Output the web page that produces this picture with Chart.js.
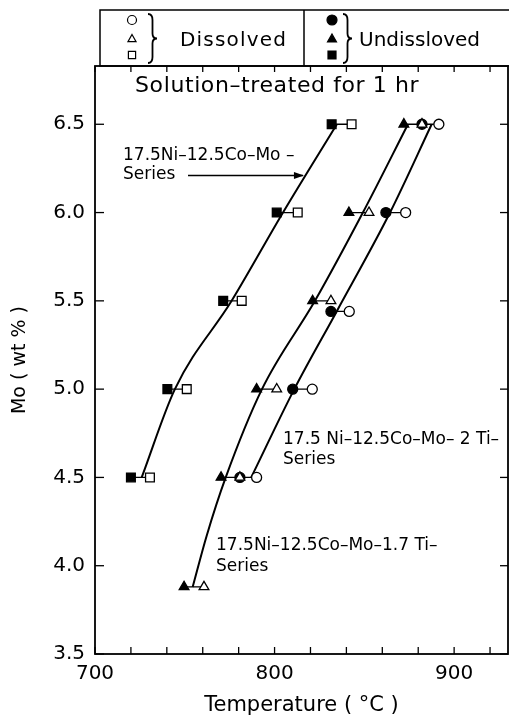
<!DOCTYPE html>
<html>
<head>
<meta charset="utf-8">
<script src="https://cdn.jsdelivr.net/npm/chart.js@4.4.1/dist/chart.umd.min.js"></script>
<style>
  html, body { margin: 0; padding: 0; background: #fff; }
</style>
</head>
<body>
<canvas id="moChart" width="509" height="718"></canvas>
<script>
// 17.5Ni-12.5Co-Mo series (Mo wt%, temperature in C)
const moLevels = [4.5, 5.0, 5.5, 6.0, 6.5];
const moUndissolved = [720, 740.3, 771.4, 801.2, 831.8];
const moDissolved = [730.6, 751.1, 781.7, 812.9, 842.9];
const moCurveMo = [4.5, 5.0, 5.5, 6.0, 6.5];
const moCurveTemp = [726, 744.5, 776.1, 804.7, 834.7];

// 17.5Ni-12.5Co-Mo-1.7Ti series
const ti17Levels = [3.88, 4.5, 5.0, 5.5, 6.0, 6.5];
const ti17Undissolved = [749.6, 770.2, 790, 821.2, 841.4, 872];
const ti17Dissolved = [760.7, 780.7, 801.2, 831.4, 852.6, 882.1];
const ti17CurveMo = [3.88, 4.17, 4.5, 5.0, 5.5, 6.0, 6.5];
const ti17CurveTemp = [754.4, 762.2, 772.8, 793, 822.5, 849.2, 874.3];

// 17.5Ni-12.5Co-Mo-2Ti series
const ti2Levels = [4.5, 5.0, 5.44, 6.0, 6.5];
const ti2Undissolved = [780.7, 810.1, 831.4, 862, 882.1];
const ti2Dissolved = [790, 821, 841.6, 873, 891.5];
const ti2CurveMo = [4.5, 5.0, 5.44, 6.0, 6.5];
const ti2CurveTemp = [787, 811, 834.6, 864.3, 887.5];

// axes
const tempLabels = [700, 800, 900];
const moTickLabels = [3.5, 4.0, 4.5, 5.0, 5.5, 6.0, 6.5];

function curve(mo, temp) {
  return {
    data: mo.map((m, i) => ({ x: temp[i], y: m })),
    showLine: true,
    borderColor: "#000",
    borderWidth: 2,
    pointRadius: 0,
    cubicInterpolationMode: "monotone",
    order: 1,
  };
}

// filled (undissolved) and open (dissolved) marker joined by a short line
function pairs(levels, filled, open, style, size) {
  const data = [];
  const styles = [];
  const fills = [];
  const radii = [];
  levels.forEach((m, i) => {
    data.push({ x: filled[i], y: m }, { x: open[i], y: m }, { x: open[i], y: null });
    styles.push(style, style, style);
    fills.push("#000", "#fff", "#fff");
    radii.push(size, size, 0);
  });
  return {
    data: data,
    showLine: true,
    spanGaps: false,
    borderColor: "#000",
    borderWidth: 1.3,
    pointStyle: styles,
    pointBackgroundColor: fills,
    pointBorderColor: "#000",
    pointBorderWidth: 1.3,
    pointRadius: radii,
    tension: 0,
    order: 0,
  };
}

function brace(ctx, x, top, bottom, w) {
  const mid = (top + bottom) / 2;
  const c = x + w * 0.5;
  ctx.beginPath();
  ctx.moveTo(x, top);
  ctx.quadraticCurveTo(c, top, c, top + 6);
  ctx.lineTo(c, mid - 5);
  ctx.quadraticCurveTo(c, mid, x + w, mid);
  ctx.quadraticCurveTo(c, mid, c, mid + 5);
  ctx.lineTo(c, bottom - 6);
  ctx.quadraticCurveTo(c, bottom, x, bottom);
  ctx.stroke();
}

function marker(ctx, style, x, y, r, filled) {
  ctx.fillStyle = filled ? "#000" : "#fff";
  ctx.beginPath();
  if (style === "circle") {
    ctx.arc(x, y, r, 0, Math.PI * 2);
  } else if (style === "triangle") {
    ctx.moveTo(x, y - r);
    ctx.lineTo(x + r * 0.9, y + r * 0.6);
    ctx.lineTo(x - r * 0.9, y + r * 0.6);
    ctx.closePath();
  } else {
    ctx.rect(x - r * 0.8, y - r * 0.8, r * 1.6, r * 1.6);
  }
  ctx.fill();
  ctx.stroke();
}

const decor = {
  id: "decor",
  afterDraw(chart) {
    const { ctx, chartArea: a, scales: { x, y } } = chart;
    const px = (t) => x.getPixelForValue(t);
    const py = (m) => y.getPixelForValue(m);
    const seg = (x1, y1, x2, y2) => {
      ctx.beginPath();
      ctx.moveTo(x1, y1);
      ctx.lineTo(x2, y2);
      ctx.stroke();
    };
    ctx.save();
    ctx.strokeStyle = "#000";
    ctx.fillStyle = "#000";

    // frame and inward ticks
    ctx.lineWidth = 1.8;
    ctx.strokeRect(a.left, a.top, a.right - a.left, a.bottom - a.top);
    ctx.lineWidth = 1.3;
    x.ticks.forEach((t) => {
      const p = px(t.value);
      seg(p, a.bottom, p, a.bottom - 7);
      seg(p, a.top, p, a.top + 6);
    });
    y.ticks.forEach((t) => {
      const p = py(t.value);
      seg(a.left, p, a.left + 9, p);
      seg(a.right, p, a.right - 8, p);
    });

    // legend box
    ctx.lineWidth = 1.5;
    ctx.strokeRect(100, 10, 420, a.top - 10);
    seg(304, 10, 304, a.top);
    ctx.lineWidth = 1.2;
    marker(ctx, "circle", 132, 20, 4.5, false);
    marker(ctx, "triangle", 132, 39, 4.5, false);
    marker(ctx, "rect", 132, 55, 4.5, false);
    marker(ctx, "circle", 332, 20, 5, true);
    marker(ctx, "triangle", 332, 39, 5, true);
    marker(ctx, "rect", 332, 55, 5, true);
    ctx.lineWidth = 1.8;
    brace(ctx, 148, 14, 63, 9);
    brace(ctx, 343, 14, 63, 9);
    ctx.fillStyle = "#000";
    ctx.textBaseline = "middle";
    ctx.font = "20px 'DejaVu Sans'";
    ctx.letterSpacing = "1.2px";
    ctx.fillText("Dissolved", 180, 41);
    ctx.letterSpacing = "0px";
    ctx.fillText("Undissloved", 359, 41);

    // annotations
    ctx.textBaseline = "alphabetic";
    ctx.font = "22px 'DejaVu Sans'";
    ctx.letterSpacing = "0.6px";
    ctx.fillText("Solution\u2013treated for 1 hr", px(722.3), py(6.685));

    ctx.font = "17px 'DejaVu Sans'";
    ctx.letterSpacing = "0px";
    ctx.fillText("17.5Ni\u201312.5Co\u2013Mo\u00a0\u2013", px(715.6), py(6.295));
    ctx.fillText("Series", px(715.6), py(6.188));
    ctx.fillText("17.5 Ni\u201312.5Co\u2013Mo\u2013 2 Ti\u2013", px(804.7), py(4.688));
    ctx.fillText("Series", px(804.7), py(4.574));
    ctx.fillText("17.5Ni\u201312.5Co\u2013Mo\u20131.7 Ti\u2013", px(767.4), py(4.091));
    ctx.fillText("Series", px(767.4), py(3.972));

    // arrow to the Mo series line
    const ax1 = px(751.8), ax2 = px(815.8), ay = py(6.21);
    ctx.lineWidth = 1.3;
    seg(ax1, ay, ax2, ay);
    ctx.beginPath();
    ctx.moveTo(ax2 + 1, ay);
    ctx.lineTo(ax2 - 9, ay - 3.5);
    ctx.lineTo(ax2 - 9, ay + 3.5);
    ctx.closePath();
    ctx.fill();
    ctx.restore();
  },
};

new Chart(document.getElementById("moChart").getContext("2d"), {
  type: "scatter",
  data: {
    datasets: [
      curve(moCurveMo, moCurveTemp),
      curve(ti17CurveMo, ti17CurveTemp),
      curve(ti2CurveMo, ti2CurveTemp),
      pairs(moLevels, moUndissolved, moDissolved, "rect", 6.2),
      pairs(ti17Levels, ti17Undissolved, ti17Dissolved, "triangle", 5.6),
      pairs(ti2Levels, ti2Undissolved, ti2Dissolved, "circle", 5),
    ],
  },
  options: {
    responsive: false,
    animation: false,
    events: [],
    layout: { autoPadding: false, padding: { top: 66, right: 1, left: 0, bottom: 0 } },
    plugins: { legend: { display: false }, tooltip: { enabled: false } },
    scales: {
      x: {
        type: "linear",
        min: 700,
        max: 930,
        grid: { display: false, drawTicks: false },
        border: { display: false },
        afterFit: (s) => {
          s.height = 64;
          s.paddingLeft = 0;
          s.paddingRight = 0;
        },
        ticks: {
          stepSize: 20,
          includeBounds: false,
          autoSkip: false,
          maxRotation: 0,
          padding: 8,
          color: "#000",
          font: { family: "DejaVu Sans", size: 20 },
          callback: (v) => (tempLabels.includes(v) ? String(v) : ""),
        },
        title: {
          display: true,
          text: "Temperature ( \u00b0C )",
          color: "#000",
          font: { family: "DejaVu Sans", size: 21 },
          padding: { top: 0, bottom: 0 },
        },
      },
      y: {
        type: "linear",
        min: 3.5,
        max: 6.83,
        grid: { display: false, drawTicks: false },
        border: { display: false },
        afterFit: (s) => {
          s.width = 95;
          s.paddingTop = 0;
          s.paddingBottom = 0;
        },
        ticks: {
          stepSize: 0.5,
          includeBounds: false,
          padding: 10,
          color: "#000",
          font: { family: "DejaVu Sans", size: 20 },
          callback: (v) => (moTickLabels.includes(v) ? v.toFixed(1) : ""),
        },
        title: {
          display: true,
          text: "Mo ( wt % )",
          color: "#000",
          font: { family: "DejaVu Sans", size: 19 },
          padding: { top: 9, bottom: 0 },
        },
      },
    },
  },
  plugins: [decor],
});
</script>
</body>
</html>
